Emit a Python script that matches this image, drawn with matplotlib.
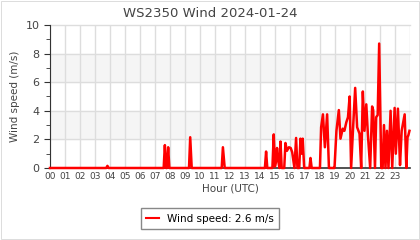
import matplotlib
matplotlib.use("Agg")
import matplotlib.pyplot as plt
from matplotlib.patches import Rectangle
from matplotlib.ticker import MultipleLocator

# wind speed readings, time in hours UTC
hours = [0.0, 3.75, 3.83, 3.91,
         7.58, 7.66, 7.74, 7.80, 7.88, 7.96,
         9.27, 9.35, 9.45,
         11.45, 11.53, 11.65,
         14.33, 14.41, 14.49,
         14.83, 14.92, 15.0, 15.08, 15.14, 15.22, 15.30, 15.37, 15.45,
         15.62, 15.70, 15.80, 15.93, 16.05, 16.15, 16.30,
         16.41, 16.50, 16.62, 16.70, 16.78, 16.85, 16.95,
         17.30, 17.37, 17.45,
         18.00, 18.08, 18.20, 18.33, 18.48, 18.60, 18.70, 18.86, 18.97,
         19.10, 19.26, 19.37, 19.52, 19.63, 19.76, 19.87, 19.98, 20.08,
         20.20, 20.35, 20.48, 20.64, 20.75, 20.86, 20.97, 21.09, 21.20,
         21.35, 21.48, 21.55, 21.67, 21.75, 21.85, 21.95, 22.09, 22.18,
         22.27, 22.37, 22.47, 22.57, 22.71, 22.82, 22.98, 23.06, 23.20,
         23.28, 23.34, 23.45, 23.65, 23.76, 23.84, 23.90, 23.97]
speed = [0.0, 0.0, 0.15, 0.0,
         0.0, 1.6, 0.0, 0.0, 1.45, 0.0,
         0.0, 2.15, 0.0,
         0.0, 1.45, 0.0,
         0.0, 1.15, 0.0,
         0.0, 2.35, 0.1, 0.5, 1.4, 0.5, 0.0, 1.85, 0.0,
         0.0, 1.75, 1.2, 1.45, 1.4, 1.1, 0.0,
         2.1, 0.0, 0.0, 2.05, 1.0, 2.05, 0.0,
         0.0, 0.7, 0.0,
         0.0, 2.85, 3.75, 1.45, 3.75, 0.0, 0.0, 0.0, 0.0,
         2.6, 4.05, 2.05, 2.75, 2.6, 3.2, 3.55, 5.0, 0.0,
         2.6, 5.6, 2.85, 2.4, 0.0, 5.35, 2.6, 4.45, 2.3,
         0.0, 4.3, 4.05, 0.0, 3.55, 3.7, 8.7, 0.0, 0.0,
         3.0, 0.0, 2.6, 0.0, 4.0, 0.0, 4.2, 1.0, 4.15,
         1.9, 0.2, 2.6, 3.75, 0.0, 2.15, 2.3, 2.6]
hour_labels = ["%02d" % h for h in range(24)]
latest = 2.6

fig = plt.figure(figsize=(4.2, 2.4), dpi=100)
# thin 1px frame round the image
fig.add_artist(Rectangle((0.5 / 420, 1.5 / 240), 418 / 420, 238 / 240,
                         transform=fig.transFigure, fill=False,
                         edgecolor="#dddddd", lw=0.72))
ax = fig.add_axes([0.119, 0.30, 0.857, 0.596])

# alternate shaded bands
for lo in (2, 6):
    ax.axhspan(lo, lo + 2, color="#f5f5f5", zorder=0)

ax.plot(hours, speed, color="red", lw=1.8, label="Wind speed: %.1f m/s" % latest,
        zorder=3, clip_on=False)

ax.set_xlim(0, 24)
ax.set_ylim(0, 10)
ax.set_xticks(range(24))
ax.set_xticklabels(hour_labels)
ax.yaxis.set_major_locator(MultipleLocator(2))
ax.yaxis.set_minor_locator(MultipleLocator(1))

for h in range(25):
    ax.axvline(h, color="#dddddd", lw=1, zorder=1)
for v in (2, 4, 6, 8, 10):
    ax.axhline(v, color="#dddddd", lw=1, zorder=1, clip_on=False)

for s in ("top", "right"):
    ax.spines[s].set_visible(False)
ax.spines["left"].set_color("#333333")
ax.spines["bottom"].set_color("#333333")
ax.spines["bottom"].set_linewidth(1.2)
ax.tick_params(axis="y", which="major", length=4, labelsize=8, colors="#333333",
               labelcolor="#444444")
ax.tick_params(axis="y", which="minor", length=3, color="#333333")
ax.tick_params(axis="x", which="both", length=0, labelsize=6.5, labelcolor="#444444", pad=3)

# title centred on the figure, not the axes
ax.set_title("WS2350 Wind 2024-01-24", fontsize=9.5, color="#444444", pad=6,
             x=(0.5 - 0.119) / 0.857)
ax.set_xlabel("Hour (UTC)", fontsize=7.5, color="#444444", labelpad=2)
ax.set_ylabel("Wind speed (m/s)", fontsize=7.5, color="#444444")

leg = fig.legend(loc="lower center", bbox_to_anchor=(0.5, 0.025), fontsize=7.5,
                 fancybox=False, edgecolor="#888888", handlelength=1.2,
                 borderpad=0.5, framealpha=1)
leg.get_frame().set_linewidth(1)
leg.get_lines()[0].set_linewidth(1.5)

fig.savefig("out.png", dpi=100)
